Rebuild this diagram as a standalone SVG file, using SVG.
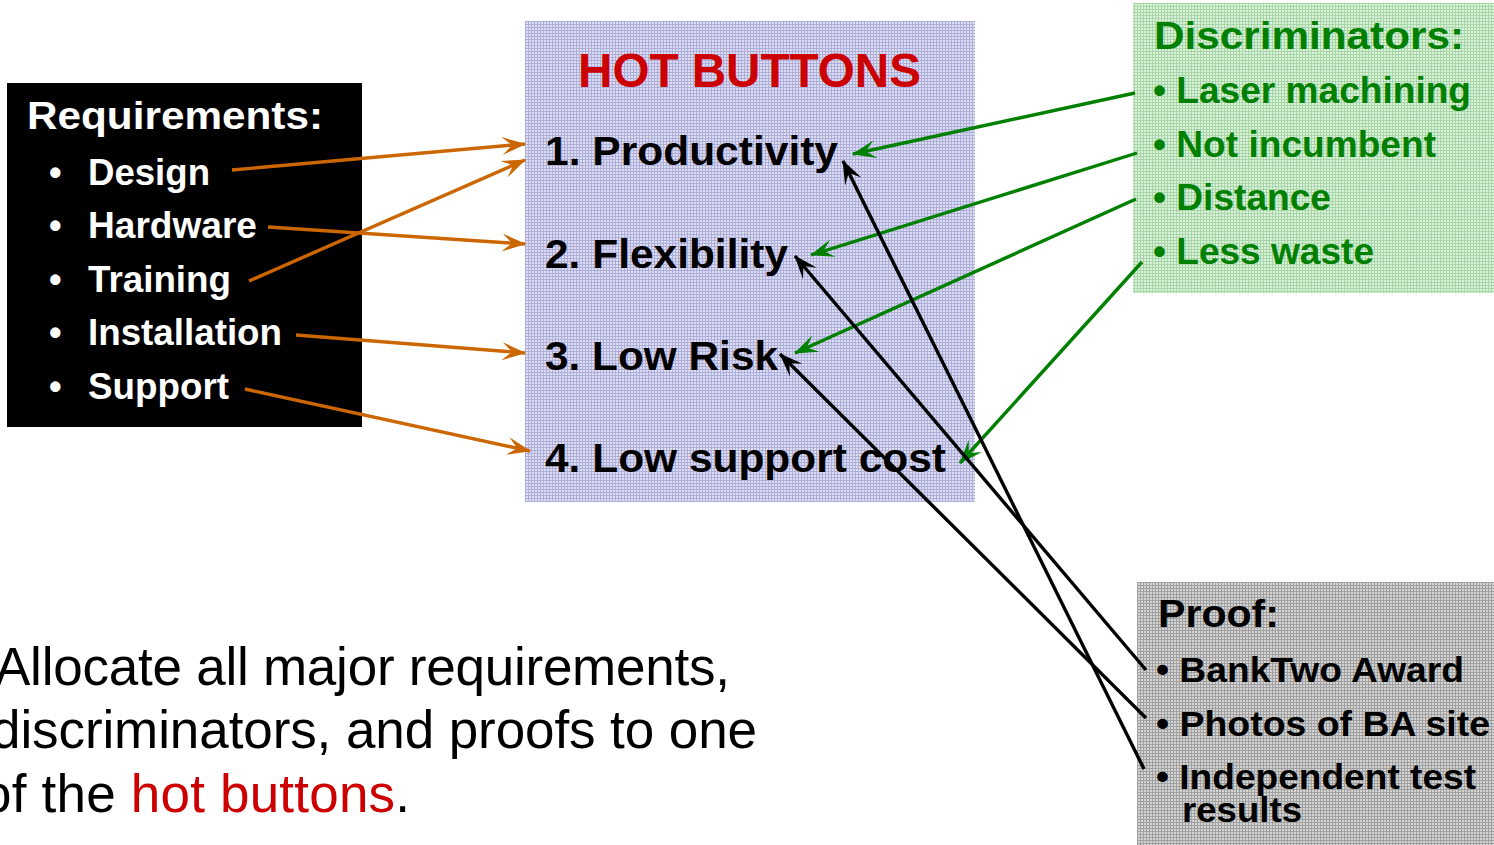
<svg xmlns="http://www.w3.org/2000/svg" width="1494" height="845" viewBox="0 0 1494 845">
  <style>
    text { font-family: "Liberation Sans", Arial, sans-serif; }
    .b { font-weight: bold; }
    .wht { fill: #ffffff; }
    .blk { fill: #000000; }
    .red { fill: #cc0000; }
    .grn { fill: #008000; }
    .body { font-size: 53px; fill: #000000; }
    .ln { fill: none; stroke-width: 3.4; }
    .or { stroke: #cc6600; marker-end: url(#ahOrange); }
    .gr { stroke: #008000; marker-end: url(#ahGreen); }
    .bk { stroke: #000000; marker-end: url(#ahBlack); }
  </style>
  <defs>
    <!-- fine grid fills for the three panels -->
    <pattern id="gridBlue" width="3" height="3" patternUnits="userSpaceOnUse">
      <rect width="3" height="3" fill="#dedef3"/>
      <rect width="3" height="1" fill="#aeaeda"/>
      <rect width="1" height="3" fill="#aeaeda"/>
    </pattern>
    <pattern id="gridGreen" width="3" height="3" patternUnits="userSpaceOnUse">
      <rect width="3" height="3" fill="#dcf2dc"/>
      <rect width="3" height="1" fill="#a6d6a6"/>
      <rect width="1" height="3" fill="#a6d6a6"/>
    </pattern>
    <pattern id="gridGray" width="3" height="3" patternUnits="userSpaceOnUse">
      <rect width="3" height="3" fill="#d4d4d4"/>
      <rect width="3" height="1" fill="#a0a0a0"/>
      <rect width="1" height="3" fill="#a0a0a0"/>
    </pattern>
    <!-- notched open arrowheads -->
    <marker id="ahOrange" markerUnits="userSpaceOnUse" viewBox="0 0 24 18" refX="23" refY="9" markerWidth="24" markerHeight="18" orient="auto">
      <path d="M0,0 L24,9 L0,18 L10,9 z" fill="#cc6600"/>
    </marker>
    <marker id="ahGreen" markerUnits="userSpaceOnUse" viewBox="0 0 24 18" refX="23" refY="9" markerWidth="24" markerHeight="18" orient="auto">
      <path d="M0,0 L24,9 L0,18 L10,9 z" fill="#008000"/>
    </marker>
    <marker id="ahBlack" markerUnits="userSpaceOnUse" viewBox="0 0 24 18" refX="23" refY="9" markerWidth="24" markerHeight="18" orient="auto">
      <path d="M0,0 L24,9 L0,18 L10,9 z" fill="#000000"/>
    </marker>
  </defs>

  <rect width="1494" height="845" fill="#ffffff"/>

  <!-- Requirements panel -->
  <g id="requirements">
    <rect x="7" y="83" width="355" height="344" fill="#000000"/>
    <text class="b wht" x="27" y="129" font-size="38" textLength="296" lengthAdjust="spacingAndGlyphs">Requirements:</text>
    <g class="b wht" font-size="36">
      <text x="49" y="185">•</text>
      <text x="88" y="185" textLength="122" lengthAdjust="spacingAndGlyphs">Design</text>
      <text x="49" y="238">•</text>
      <text x="88" y="238" textLength="169" lengthAdjust="spacingAndGlyphs">Hardware</text>
      <text x="49" y="292">•</text>
      <text x="88" y="292" textLength="143" lengthAdjust="spacingAndGlyphs">Training</text>
      <text x="49" y="345">•</text>
      <text x="88" y="345" textLength="194" lengthAdjust="spacingAndGlyphs">Installation</text>
      <text x="49" y="399">•</text>
      <text x="88" y="399" textLength="141" lengthAdjust="spacingAndGlyphs">Support</text>
    </g>
  </g>

  <!-- Hot buttons panel -->
  <g id="hot-buttons">
    <rect x="525" y="21" width="450" height="481" fill="url(#gridBlue)"/>
    <text class="b red" x="578" y="87" font-size="48" textLength="343" lengthAdjust="spacingAndGlyphs">HOT BUTTONS</text>
    <g class="b blk" font-size="41">
      <text x="545" y="165" textLength="293" lengthAdjust="spacingAndGlyphs">1. Productivity</text>
      <text x="545" y="268" textLength="243" lengthAdjust="spacingAndGlyphs">2. Flexibility</text>
      <text x="545" y="370" textLength="233" lengthAdjust="spacingAndGlyphs">3. Low Risk</text>
      <text x="545" y="472" textLength="401" lengthAdjust="spacingAndGlyphs">4. Low support cost</text>
    </g>
  </g>

  <!-- Discriminators panel -->
  <g id="discriminators">
    <rect x="1133" y="3" width="361" height="290" fill="url(#gridGreen)"/>
    <text class="b grn" x="1154" y="49" font-size="39" textLength="310" lengthAdjust="spacingAndGlyphs">Discriminators:</text>
    <g class="b grn" font-size="36">
      <text x="1153" y="103" textLength="318" lengthAdjust="spacingAndGlyphs">• Laser machining</text>
      <text x="1153" y="157" textLength="283" lengthAdjust="spacingAndGlyphs">• Not incumbent</text>
      <text x="1153" y="210" textLength="178" lengthAdjust="spacingAndGlyphs">• Distance</text>
      <text x="1153" y="264" textLength="221" lengthAdjust="spacingAndGlyphs">• Less waste</text>
    </g>
  </g>

  <!-- Proof panel -->
  <g id="proof">
    <rect x="1137" y="582" width="357" height="263" fill="url(#gridGray)"/>
    <text class="b blk" x="1158" y="627" font-size="38" textLength="121" lengthAdjust="spacingAndGlyphs">Proof:</text>
    <g class="b blk" font-size="35">
      <text x="1156" y="682" textLength="308" lengthAdjust="spacingAndGlyphs">• BankTwo Award</text>
      <text x="1156" y="736" textLength="334" lengthAdjust="spacingAndGlyphs">• Photos of BA site</text>
      <text x="1156" y="789" textLength="320" lengthAdjust="spacingAndGlyphs">• Independent test</text>
      <text x="1182" y="822" textLength="120" lengthAdjust="spacingAndGlyphs">results</text>
    </g>
  </g>

  <!-- Caption -->
  <g id="caption">
    <text class="body" x="-5" y="685" textLength="735">Allocate all major requirements,</text>
    <text class="body" x="-9" y="748" textLength="766">discriminators, and proofs to one</text>
    <text class="body" x="-18" y="812" textLength="428">of the <tspan fill="#cc0000">hot buttons</tspan>.</text>
  </g>

  <!-- Connectors -->
  <g id="connectors">
    <line class="ln or" x1="232" y1="170" x2="525" y2="144"/>
    <line class="ln or" x1="268" y1="227" x2="525" y2="244"/>
    <line class="ln or" x1="249" y1="281" x2="525" y2="160"/>
    <line class="ln or" x1="296" y1="335" x2="525" y2="353"/>
    <line class="ln or" x1="245" y1="389" x2="530" y2="451"/>

    <line class="ln gr" x1="1135" y1="93" x2="853" y2="154"/>
    <line class="ln gr" x1="1137" y1="153" x2="811" y2="255"/>
    <line class="ln gr" x1="1136" y1="199" x2="795" y2="353"/>
    <line class="ln gr" x1="1142" y1="262" x2="960" y2="463"/>

    <line class="ln bk" x1="1144" y1="769" x2="843" y2="161"/>
    <line class="ln bk" x1="1146" y1="670" x2="795" y2="256"/>
    <line class="ln bk" x1="1146" y1="718" x2="780" y2="354"/>
  </g>
</svg>
